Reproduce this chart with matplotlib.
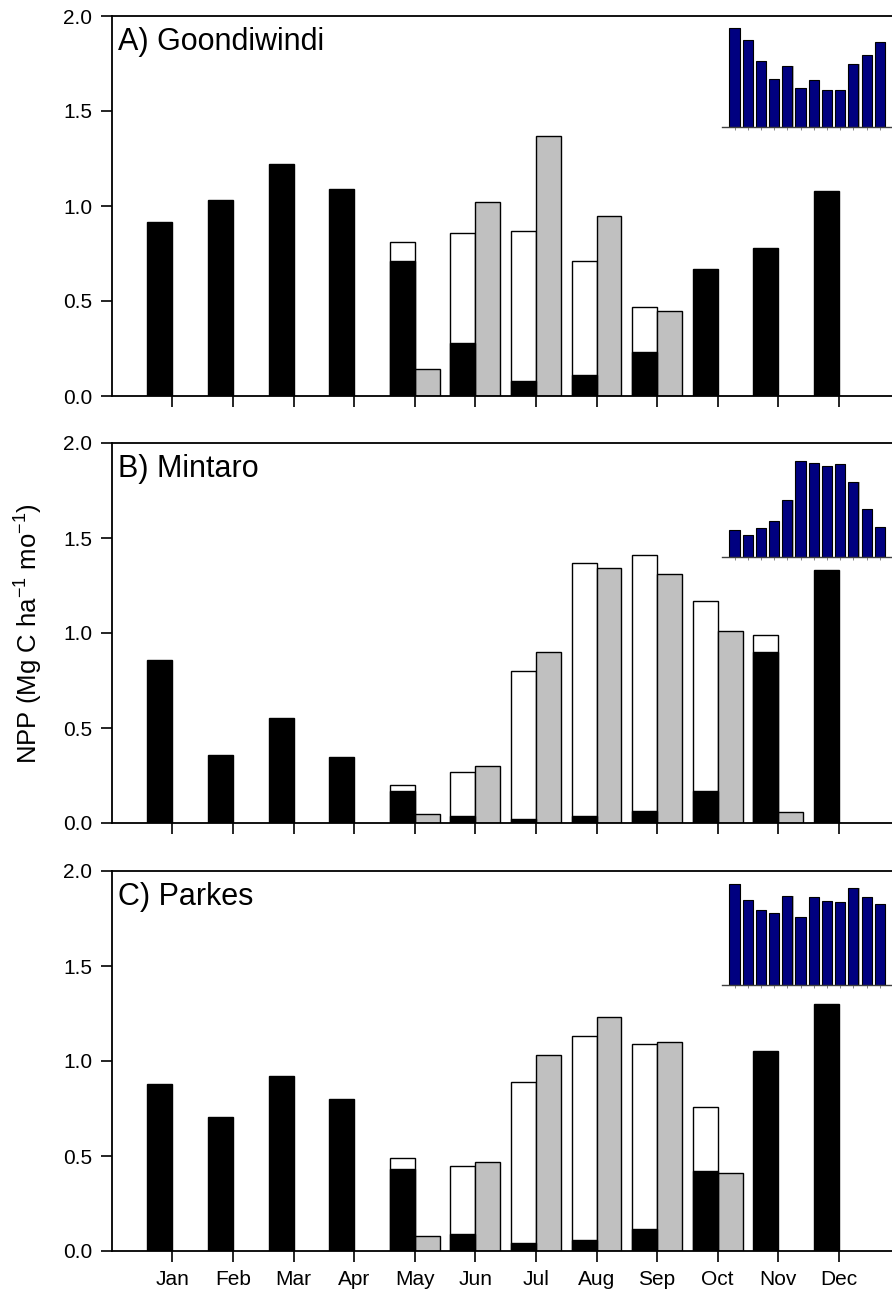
import numpy as np
import matplotlib
matplotlib.use('Agg')
import matplotlib.pyplot as plt

plt.rcParams['font.family'] = ['Liberation Sans', 'DejaVu Sans']
plt.rcParams['mathtext.default'] = 'regular'

# mesi
mesi = ['Jan', 'Feb', 'Mar', 'Apr', 'May', 'Jun', 'Jul', 'Aug', 'Sep', 'Oct', 'Nov', 'Dec']
siti = ['A) Goondiwindi', 'B) Mintaro', 'C) Parkes']

# NPP barre nere
nero_A = [0.915, 1.03, 1.22, 1.09, 0.71, 0.28, 0.08, 0.11, 0.23, 0.67, 0.78, 1.08]
nero_B = [0.86, 0.36, 0.555, 0.35, 0.17, 0.035, 0.02, 0.035, 0.065, 0.17, 0.90, 1.33]
nero_C = [0.88, 0.705, 0.92, 0.80, 0.43, 0.09, 0.04, 0.06, 0.115, 0.42, 1.055, 1.30]

# NPP totale (barre bianche), nan = assente
bianco_A = [np.nan]*4 + [0.81, 0.86, 0.87, 0.71, 0.47] + [np.nan]*3
bianco_B = [np.nan]*4 + [0.20, 0.27, 0.80, 1.37, 1.41, 1.17, 0.99] + [np.nan]
bianco_C = [np.nan]*4 + [0.49, 0.45, 0.89, 1.13, 1.09, 0.76] + [np.nan]*2

# barre grigie
grigio_A = [np.nan]*4 + [0.14, 1.02, 1.37, 0.95, 0.45] + [np.nan]*3
grigio_B = [np.nan]*4 + [0.045, 0.30, 0.90, 1.34, 1.31, 1.01, 0.06] + [np.nan]
grigio_C = [np.nan]*4 + [0.08, 0.47, 1.03, 1.23, 1.10, 0.41] + [np.nan]*2

# inserti (altezze relative)
ins_A = [99, 87, 66, 48, 61, 39, 47, 37, 37, 63, 72, 85]
ins_B = [27, 22, 29, 36, 57, 96, 94, 91, 93, 75, 48, 30]
ins_C = [101, 85, 75, 72, 89, 68, 88, 84, 83, 97, 88, 81]

dati = [(nero_A, bianco_A, grigio_A, ins_A),
        (nero_B, bianco_B, grigio_B, ins_B),
        (nero_C, bianco_C, grigio_C, ins_C)]

W, H = 892, 1296
fig = plt.figure(figsize=(W/100, H/100), dpi=100)
x = np.arange(1, 13)
larg = 0.41
tops = [16, 443, 871]
alt = 380

for k, (nero, bianco, grigio, ins) in enumerate(dati):
    top = tops[k]
    ax = fig.add_axes([111.7/W, 1-(top+alt)/H, 1-111.7/W, alt/H])
    bianco = np.array(bianco)
    grigio = np.array(grigio)
    m = ~np.isnan(bianco)
    ax.bar(x[m]-larg/2, bianco[m], width=larg, color='white', edgecolor='black', linewidth=1, zorder=2)
    ax.bar(x-larg/2, nero, width=larg, color='black', edgecolor='black', linewidth=1, zorder=3)
    g = ~np.isnan(grigio)
    ax.bar(x[g]+larg/2, grigio[g], width=larg, color='#c0c0c0', edgecolor='black', linewidth=1, zorder=2)
    ax.set_xlim(0, (W-111.7)/60.6)
    ax.set_ylim(0, 2.0)
    ax.set_yticks([0, 0.5, 1.0, 1.5, 2.0])
    ax.set_yticklabels(['0.0', '0.5', '1.0', '1.5', '2.0'], fontsize=15)
    ax.set_xticks(x)
    if k == 2:
        ax.set_xticklabels(mesi, fontsize=15)
    else:
        ax.set_xticklabels([])
    ax.tick_params(direction='out', length=8, width=1.2, pad=6)
    ax.spines['right'].set_visible(False)
    for s in ['left', 'bottom', 'top']:
        ax.spines[s].set_linewidth(1.3)
    ax.text(0.1, 1.94, siti[k], fontsize=22, va='top', ha='left')

    # inserto
    base = top + [111, 114, 114][k]
    axi = fig.add_axes([722/W, 1-base/H, 170/W, 110/H])
    axi.bar(x+0.1, ins, width=0.76, color='#b0b0b0', edgecolor='none', zorder=1)
    axi.bar(x, ins, width=0.76, color='#000080', edgecolor='black', linewidth=0.8, zorder=2)
    axi.set_xlim(0.053, 12.93)
    axi.set_ylim(0, 110)
    axi.set_yticks([])
    axi.set_xticks(x)
    axi.set_xticklabels([])
    axi.tick_params(axis='x', direction='out', length=2, width=0.6, colors='#707070')
    for s in ['left', 'right', 'top']:
        axi.spines[s].set_visible(False)
    axi.spines['bottom'].set_color('#404040')
    axi.spines['bottom'].set_linewidth(1)
    axi.patch.set_alpha(0)

fig.text(29/W, 1-634/H, 'NPP (Mg C ha$^{-1}$ mo$^{-1}$)', rotation=90, fontsize=18.5,
         ha='center', va='center')

plt.savefig('out.png', dpi=100)
